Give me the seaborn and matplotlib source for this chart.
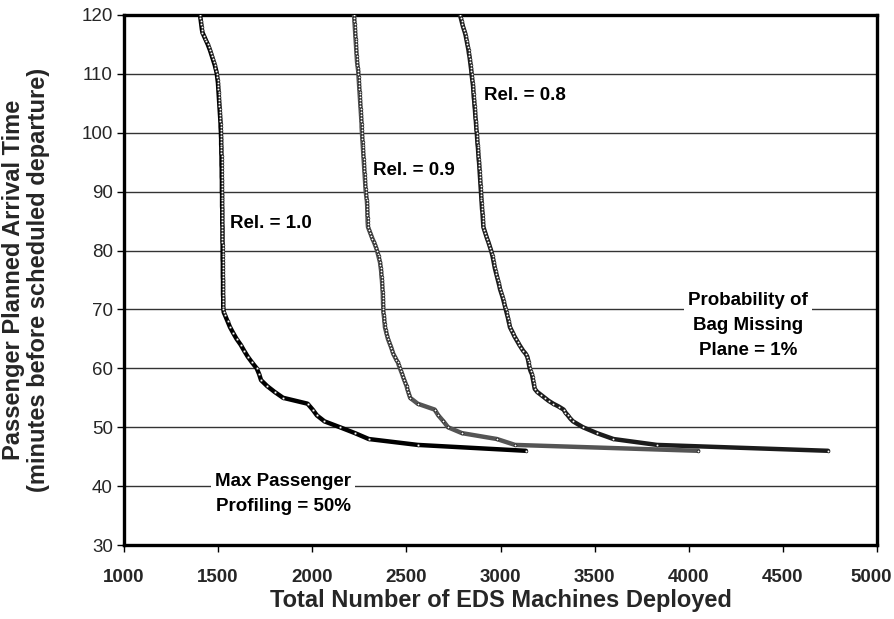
import matplotlib
matplotlib.use("Agg")
import matplotlib.pyplot as plt
import matplotlib.transforms as mtransforms
import seaborn as sns
import pandas as pd

# Planned arrival times (minutes before departure) for the steep part of every curve
upper_times = [
    120.0, 119.5, 119.0, 118.5, 118.0, 117.5, 117.0, 116.5, 116.0, 115.5,
    115.0, 114.5, 114.0, 113.5, 113.0, 112.5, 112.0, 111.5, 111.0, 110.5,
    110.0, 109.5, 109.0, 108.5, 108.0, 107.5, 107.0, 106.5, 106.0, 105.5,
    105.0, 104.5, 104.0, 103.5, 103.0, 102.5, 102.0, 101.5, 101.0, 100.5,
    100.0, 99.5, 99.0, 98.5, 98.0, 97.5, 97.0, 96.5, 96.0, 95.5,
    95.0, 94.5, 94.0, 93.5, 93.0, 92.5, 92.0, 91.5, 91.0, 90.5,
    90.0, 89.5, 89.0, 88.5, 88.0, 87.5, 87.0, 86.5, 86.0, 85.5,
    85.0, 84.5, 84.0, 83.5, 83.0, 82.5, 82.0, 81.5, 81.0, 80.5,
    80.0, 79.5, 79.0, 78.5, 78.0, 77.5, 77.0, 76.5, 76.0, 75.5,
    75.0, 74.5, 74.0, 73.5, 73.0, 72.5, 72.0, 71.5, 71.0, 70.5,
    70.0,
]

# Reliability = 1.0
rel10_upper_eds = [
    1404, 1406, 1408, 1410, 1412, 1414, 1417, 1424, 1431, 1438,
    1445, 1451, 1457, 1462, 1467, 1472, 1477, 1482, 1486, 1490,
    1493, 1495, 1497, 1499, 1500, 1501, 1502, 1503, 1504, 1505,
    1506, 1507, 1508, 1509, 1510, 1511, 1512, 1513, 1513, 1514,
    1515, 1515, 1516, 1516, 1516, 1517, 1517, 1517, 1518, 1518,
    1518, 1518, 1519, 1519, 1519, 1519, 1520, 1520, 1520, 1520,
    1520, 1521, 1521, 1521, 1521, 1521, 1522, 1522, 1522, 1522,
    1522, 1522, 1523, 1523, 1523, 1523, 1523, 1523, 1524, 1524,
    1524, 1524, 1524, 1524, 1525, 1525, 1525, 1525, 1525, 1525,
    1526, 1526, 1526, 1526, 1526, 1526, 1527, 1527, 1527, 1527,
    1528,
]
rel10_tail_times = [69.5, 69, 68, 67, 66, 65, 64, 63, 62, 61, 60, 59, 58, 57,
                    56, 55, 54, 53, 52, 51, 50, 49, 48, 47, 46]
rel10_tail_eds = [1530, 1537, 1550, 1563, 1580, 1598, 1620, 1638, 1657, 1680,
                  1705, 1718, 1728, 1760, 1800, 1845, 1975, 2002, 2025, 2065,
                  2147, 2227, 2300, 2560, 3135]

# Reliability = 0.9
rel09_upper_eds = [
    2222, 2223, 2224, 2225, 2226, 2227, 2228, 2229, 2230, 2231,
    2232, 2233, 2234, 2235, 2236, 2237, 2238, 2240, 2242, 2244,
    2245, 2246, 2247, 2248, 2249, 2250, 2251, 2252, 2253, 2254,
    2255, 2256, 2257, 2258, 2259, 2260, 2261, 2262, 2262, 2263,
    2264, 2265, 2266, 2267, 2268, 2269, 2270, 2271, 2272, 2273,
    2274, 2275, 2276, 2277, 2278, 2279, 2280, 2281, 2282, 2283,
    2284, 2286, 2288, 2290, 2291, 2292, 2292, 2293, 2293, 2294,
    2294, 2295, 2296, 2302, 2308, 2314, 2320, 2327, 2333, 2339,
    2344, 2348, 2352, 2356, 2360, 2362, 2364, 2366, 2367, 2368,
    2370, 2371, 2372, 2373, 2374, 2375, 2375, 2376, 2376, 2377,
    2377,
]
rel09_tail_times = [69.5, 69, 68.5, 68, 67.5, 67, 66.5, 66, 65.5, 65,
                    64.5, 64, 63.5, 63, 62.5, 62, 61.5, 61, 60.5, 60,
                    59.5, 59, 58.5, 58, 57.5, 57, 56.5, 56, 55.5, 55,
                    54, 53, 52, 51, 50, 49, 48, 47, 46]
rel09_tail_eds = [2378, 2380, 2382, 2383, 2385, 2386, 2390, 2394, 2398, 2402,
                  2408, 2414, 2420, 2425, 2430, 2438, 2446, 2455, 2460, 2466,
                  2472, 2478, 2483, 2489, 2495, 2501, 2505, 2510, 2515, 2520,
                  2560, 2650, 2670, 2697, 2721, 2795, 2981, 3077, 4050]

# Reliability = 0.8
rel08_upper_eds = [
    2785, 2789, 2793, 2797, 2801, 2806, 2811, 2815, 2818, 2821,
    2824, 2827, 2830, 2832, 2835, 2837, 2839, 2841, 2843, 2845,
    2846, 2848, 2850, 2852, 2854, 2855, 2856, 2857, 2858, 2860,
    2861, 2862, 2864, 2865, 2866, 2867, 2869, 2870, 2871, 2872,
    2874, 2875, 2876, 2877, 2878, 2880, 2881, 2882, 2883, 2884,
    2886, 2887, 2888, 2889, 2890, 2891, 2892, 2893, 2894, 2895,
    2896, 2897, 2898, 2899, 2900, 2901, 2902, 2904, 2905, 2906,
    2907, 2908, 2909, 2914, 2919, 2924, 2929, 2935, 2940, 2945,
    2950, 2954, 2958, 2961, 2964, 2967, 2970, 2974, 2978, 2982,
    2986, 2990, 2994, 2997, 3002, 3007, 3012, 3016, 3020, 3024,
    3028,
]
rel08_tail_times = [69.5, 69, 68.5, 68, 67.5, 67, 66.5, 66, 65.5, 65,
                    64.5, 64, 63.5, 63, 62.5, 62, 61.5, 61, 60.5, 60,
                    59.5, 59, 58.5, 58, 57.5, 57, 56.5, 56, 55.5, 55,
                    54.5, 54, 53.5, 53, 52.5, 52, 51.5, 51,
                    50, 49, 48, 47, 46]
rel08_tail_eds = [3032, 3036, 3040, 3043, 3047, 3050, 3058, 3066, 3073, 3082,
                  3091, 3100, 3110, 3120, 3133, 3142, 3146, 3149, 3152, 3155,
                  3160, 3167, 3170, 3173, 3176, 3179, 3182, 3195, 3215, 3235,
                  3255, 3280, 3310, 3335, 3345, 3358, 3370, 3385,
                  3438, 3512, 3600, 3831, 4740]

curve_names = ["Rel. = 1.0", "Rel. = 0.9", "Rel. = 0.8"]
curve_colors = ["#000000", "#555555", "#1c1c1c"]

x_ticks = [1000, 1500, 2000, 2500, 3000, 3500, 4000, 4500, 5000]
y_ticks = [30, 40, 50, 60, 70, 80, 90, 100, 110, 120]

curves = [
    (curve_names[0], rel10_upper_eds + rel10_tail_eds, upper_times + rel10_tail_times),
    (curve_names[1], rel09_upper_eds + rel09_tail_eds, upper_times + rel09_tail_times),
    (curve_names[2], rel08_upper_eds + rel08_tail_eds, upper_times + rel08_tail_times),
]
frames = []
for name, eds, times in curves:
    frames.append(pd.DataFrame({"curve": name, "machines": eds, "minutes": times}))
df = pd.concat(frames, ignore_index=True)

sns.set_theme(style="white")
plt.rcParams["font.family"] = ["Liberation Sans", "DejaVu Sans"]

fig = plt.figure(figsize=(8.94, 6.19), dpi=100)
ax = fig.add_axes([0.1387, 0.1195, 0.8423, 0.8563])

for y in y_ticks[1:-1]:
    ax.axhline(y, color="#333333", lw=1.0, zorder=1)

for name, color in zip(curve_names, curve_colors):
    sub = df[df["curve"] == name]
    sns.lineplot(data=sub, x="machines", y="minutes", sort=False, estimator=None,
                 color=color, lw=3.2, marker="o", markersize=2.0, ax=ax, zorder=3)

for line in ax.lines:
    if line.get_marker() == "o":
        line.set_markerfacecolor("white")
        line.set_markeredgecolor("#111111")
        line.set_markeredgewidth(0.5)

ax.set_xlim(1000, 5000)
ax.set_ylim(30, 120)
ax.set_xticks(x_ticks)
ax.set_yticks(y_ticks)
ax.set_xticklabels([str(v) for v in x_ticks], fontsize=13.5, fontweight="bold")
ax.set_yticklabels([str(v) for v in y_ticks], fontsize=13.5)
ax.tick_params(axis="both", direction="out", length=5, width=1, color="black",
               bottom=True, left=True, pad=3)
ax.tick_params(axis="x", pad=12)

# keep the last x label inside the canvas
last = ax.get_xticklabels()[-1]
last.set_transform(last.get_transform() +
                   mtransforms.ScaledTranslation(-4 / 72, 0, fig.dpi_scale_trans))

for spine in ax.spines.values():
    spine.set_visible(True)
    spine.set_color("black")
    spine.set_linewidth(2.4)

ax.set_xlabel("Total Number of EDS Machines Deployed", fontsize=17,
              fontweight="bold")
ax.xaxis.set_label_coords(0.5, -0.083)
ax.set_ylabel("Passenger Planned Arrival Time\n(minutes before scheduled departure)",
              fontsize=17, fontweight="bold", linespacing=1.1)
ax.yaxis.set_label_coords(-0.098, 0.5)

label_kw = dict(fontsize=13.5, fontweight="bold", color="black", zorder=5)
ax.text(1563, 84.6, curve_names[0], ha="left", va="center", **label_kw)
ax.text(2321, 93.6, curve_names[1], ha="left", va="center", **label_kw)
ax.text(2912, 106.4, curve_names[2], ha="left", va="center", **label_kw)

box = dict(facecolor="white", edgecolor="none", pad=3)
ax.text(4317, 67.3, "Probability of\nBag Missing\nPlane = 1%", ha="center",
        va="center", multialignment="center", linespacing=1.6, bbox=box, **label_kw)
ax.text(1845, 38.6, "Max Passenger\nProfiling = 50%", ha="center", va="center",
        multialignment="center", linespacing=1.6, bbox=box, **label_kw)

fig.savefig("out.png", dpi=100, facecolor="white")
